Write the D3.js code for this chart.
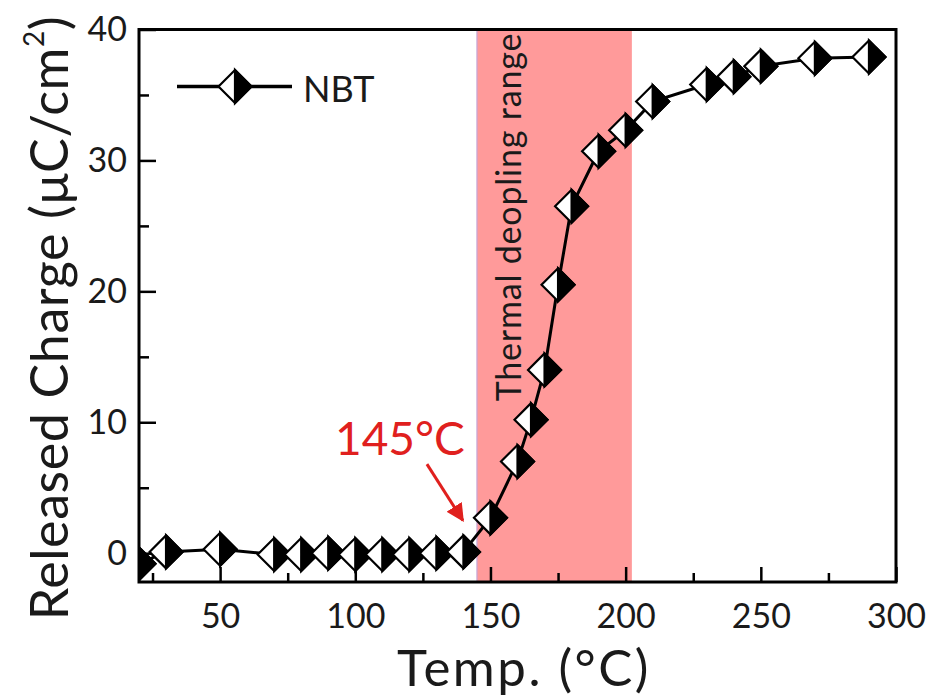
<!DOCTYPE html>
<html lang="en">
<head>
  <meta charset="UTF-8">
  <title>Released charge vs temperature</title>
  <script src="https://d3js.org/d3.v7.min.js"></script>
  <style>
    body { margin: 0; background: #fff; }
    text { font-family: Lato, "Open Sans", sans-serif; }
  </style>
</head>
<body>
  <div id="root"></div>
  <script>
    // data
    const temps = [20, 30, 50, 70, 80, 90, 100, 110, 120, 130, 140, 150, 160, 165, 170, 175, 180, 190, 200, 210, 230, 240, 250, 270, 290];
    const charge = [-0.8, 0.1, 0.3, -0.1, -0.1, 0, -0.1, -0.1, -0.1, 0, 0.1, 2.7, 7.0, 10.2, 14.0, 20.5, 26.5, 30.7, 32.3, 34.5, 35.8, 36.4, 37.2, 37.8, 37.9];
    const xTicks = [50, 100, 150, 200, 250, 300];
    const xMinor = [25, 75, 125, 175, 225, 275];
    const yTicks = [0, 10, 20, 30, 40];
    const yMinor = [5, 15, 25, 35];
    const band = [145, 202.3];
    const bandLabel = 'Thermal deopling range';
    const seriesName = 'NBT';
    const onsetLabel = '145°C';
    // arrow: from [temp, charge] to [temp, charge]
    const onsetArrow = [[126.5, 6.8], [139.8, 2.5]];

    const W = 933, H = 696;
    const margin = { top: 29.5, right: 37, bottom: 114, left: 139 };

    const svg = d3.select('#root').append('svg')
      .attr('width', W).attr('height', H);

    const x = d3.scaleLinear().domain([20, 300]).range([margin.left, W - margin.right]);
    const y = d3.scaleLinear().domain([-2.2, 40]).range([H - margin.bottom, margin.top]);

    const defs = svg.append('defs');
    defs.append('clipPath').attr('id', 'plot-clip')
      .append('rect')
      .attr('x', x(20)).attr('y', y(40))
      .attr('width', x(300) - x(20)).attr('height', y(-2.2) - y(40));

    defs.append('marker').attr('id', 'arrowhead')
      .attr('viewBox', '0 0 10 10').attr('refX', 9).attr('refY', 5)
      .attr('markerWidth', 6).attr('markerHeight', 6)
      .attr('markerUnits', 'strokeWidth')
      .attr('orient', 'auto')
      .append('path').attr('d', 'M0,0 L10,5 L0,10 z').attr('fill', '#e0201e');

    // shaded range
    svg.append('rect')
      .attr('x', x(band[0])).attr('y', y(40))
      .attr('width', x(band[1]) - x(band[0]))
      .attr('height', y(-2.2) - y(40))
      .attr('fill', '#ff9a9a');
    svg.append('line')
      .attr('x1', x(band[0])).attr('x2', x(band[0]))
      .attr('y1', y(40)).attr('y2', y(-2.2))
      .attr('stroke', '#c7a6d8').attr('stroke-width', 1.5).attr('opacity', 0.8);

    svg.append('text')
      .attr('transform', `translate(${x(band[0]) + 44},${y(11.6)}) rotate(-90)`)
      .attr('font-size', 34).attr('letter-spacing', 0.8).attr('fill', '#1a1a1a')
      .text(bandLabel);

    // axes
    svg.append('g')
      .attr('transform', `translate(0,${y(-2.2)})`)
      .call(d3.axisBottom(x).tickValues(xTicks).tickSize(-15).tickSizeOuter(0).tickPadding(22));
    svg.append('g')
      .attr('transform', `translate(0,${y(-2.2)})`)
      .call(d3.axisBottom(x).tickValues(xMinor).tickSize(-9).tickSizeOuter(0).tickFormat(''));
    svg.append('g')
      .attr('transform', `translate(${x(20)},0)`)
      .call(d3.axisLeft(y).tickValues(yTicks).tickSize(-17).tickSizeOuter(0).tickPadding(12));
    svg.append('g')
      .attr('transform', `translate(${x(20)},0)`)
      .call(d3.axisLeft(y).tickValues(yMinor).tickSize(-10).tickSizeOuter(0).tickFormat(''));

    svg.selectAll('.domain').remove();
    svg.selectAll('.tick line').attr('stroke', '#000').attr('stroke-width', 2.5);
    svg.selectAll('.tick text')
      .attr('font-family', 'Lato, sans-serif')
      .attr('font-size', 34).attr('fill', '#1a1a1a');

    // line + markers
    const pts = temps.map((t, i) => [t, charge[i]]);
    const plot = svg.append('g').attr('clip-path', 'url(#plot-clip)');

    plot.append('path')
      .datum(pts)
      .attr('fill', 'none').attr('stroke', '#000').attr('stroke-width', 3)
      .attr('d', d3.line().x(d => x(d[0])).y(d => y(d[1])));

    const r = 16.5;
    function diamond(g) {
      g.append('path')
        .attr('d', `M0,${-r} L${r},0 L0,${r} L${-r},0 Z`)
        .attr('fill', '#fff').attr('stroke', '#000').attr('stroke-width', 2.2);
      g.append('path')
        .attr('d', `M0,${-r} L${r},0 L0,${r} Z`)
        .attr('fill', '#000').attr('stroke', '#000').attr('stroke-width', 2.2);
    }

    plot.selectAll('g.pt').data(pts).enter()
      .append('g').attr('class', 'pt')
      .attr('transform', d => `translate(${x(d[0])},${y(d[1])})`)
      .each(function () { diamond(d3.select(this)); });

    // frame
    svg.append('rect')
      .attr('x', x(20)).attr('y', y(40))
      .attr('width', x(300) - x(20)).attr('height', y(-2.2) - y(40))
      .attr('fill', 'none').attr('stroke', '#000').attr('stroke-width', 3);

    // onset annotation
    svg.append('text')
      .attr('x', x(92.5)).attr('y', y(7.5))
      .attr('font-size', 46).attr('fill', '#e0201e')
      .text(onsetLabel);
    svg.append('line')
      .attr('x1', x(onsetArrow[0][0])).attr('y1', y(onsetArrow[0][1]))
      .attr('x2', x(onsetArrow[1][0])).attr('y2', y(onsetArrow[1][1]))
      .attr('stroke', '#e0201e').attr('stroke-width', 3)
      .attr('marker-end', 'url(#arrowhead)');

    // legend
    const leg = svg.append('g').attr('transform', `translate(${x(20) + 38},${y(40) + 57})`);
    leg.append('line').attr('x1', 0).attr('x2', 115).attr('y1', 0).attr('y2', 0)
      .attr('stroke', '#000').attr('stroke-width', 3.5);
    diamond(leg.append('g').attr('transform', 'translate(58,0)'));
    leg.append('text').attr('x', 126).attr('y', 15)
      .attr('font-size', 36).attr('fill', '#1a1a1a')
      .text(seriesName);

    // axis titles
    svg.append('text')
      .attr('x', 524).attr('y', 686)
      .attr('text-anchor', 'middle').attr('font-size', 51).attr('letter-spacing', 2.5)
      .attr('fill', '#1a1a1a')
      .text('Temp. (°C)');

    const yt = svg.append('text')
      .attr('transform', 'translate(68,318) rotate(-90)')
      .attr('text-anchor', 'middle').attr('font-size', 52).attr('letter-spacing', 0.6)
      .attr('fill', '#1a1a1a');
    yt.append('tspan').text('Released Charge (μC/cm');
    yt.append('tspan').attr('font-size', 28).attr('dy', -24).text('2');
    yt.append('tspan').attr('dy', 24).text(')');
  </script>
</body>
</html>
